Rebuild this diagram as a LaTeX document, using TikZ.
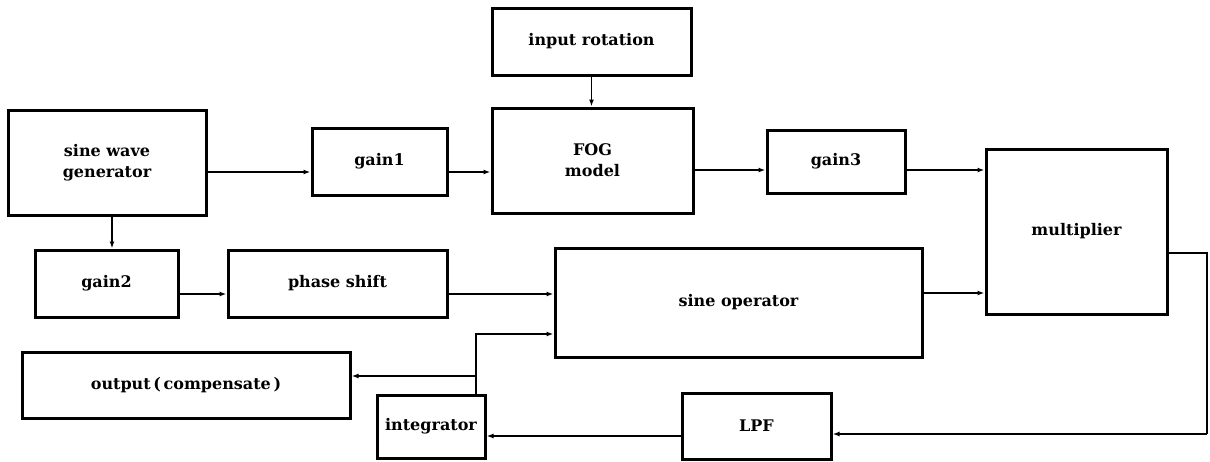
\documentclass[tikz,border=0pt]{standalone}
\usepackage{fontspec}
\setmainfont{DejaVu Serif}
\usetikzlibrary{arrows.meta}
\tikzset{
  blk/.style={draw, line width=3pt, inner sep=0pt, align=center, font=\fontsize{16}{21}\selectfont\bfseries},
  conn/.style={line width=1.5pt, -{Latex[length=7pt,width=5pt]}},
  wire/.style={line width=1.5pt}
}
\begin{document}
\begin{tikzpicture}[x=1pt,y=-1pt]
\useasboundingbox (0,0) rectangle (1210,461);
\node[blk, minimum width=199pt, minimum height=67pt] (inrot) at (591.5,41.5) {input rotation};
\node[blk, minimum width=198pt, minimum height=105pt] (swg) at (107,162.5) {sine wave\\generator};
\node[blk, minimum width=135pt, minimum height=67pt] (gain1) at (379.5,161.5) {gain1};
\node[blk, minimum width=201pt, minimum height=105pt] (fog) at (592.5,160.5) {FOG\\model};
\node[blk, minimum width=138pt, minimum height=63pt] (gain3) at (836,161.5) {gain3};
\node[blk, minimum width=181pt, minimum height=165pt] (mult) at (1076.5,231.5) {multiplier};
\node[blk, minimum width=143pt, minimum height=67pt] (gain2) at (106.5,283.5) {gain2};
\node[blk, minimum width=219pt, minimum height=67pt] (phase) at (337.5,283.5) {phase shift};
\node[blk, minimum width=367pt, minimum height=109pt] (sineop) at (738.5,302.5) {sine operator};
\node[blk, minimum width=328pt, minimum height=66pt] (output) at (186,385) {output\,(\,compensate\,)};
\node[blk, minimum width=108pt, minimum height=63pt] (integ) at (431,426.5) {integrator};
\node[blk, minimum width=149pt, minimum height=66pt] (lpf) at (756.5,426) {LPF};
\coordinate (fb) at (1207,434);
\coordinate (tap) at (476,334);
\coordinate (jn) at (476,376);
\draw[conn] ([yshift=-9.5pt]swg.east) -- ([yshift=-10.5pt]gain1.west);
\draw[conn] ([yshift=-10.5pt]gain1.east) -- ([yshift=-11.5pt]fog.west);
\draw[conn] (inrot.south) -- (inrot.south |- fog.north);
\draw[conn] ([yshift=-9.5pt]fog.east) -- ([yshift=-8.5pt]gain3.west);
\draw[conn] ([yshift=-8.5pt]gain3.east) -- ([yshift=61.5pt]mult.west);
\draw[conn] ([xshift=5pt]swg.south) -- ([xshift=5.5pt]gain2.north);
\draw[conn] ([yshift=-10.5pt]gain2.east) -- ([yshift=-10.5pt]phase.west);
\draw[conn] ([yshift=-10.5pt]phase.east) -- ([yshift=8.5pt]sineop.west);
\draw[conn] ([yshift=9.5pt]sineop.east) -- ([yshift=-61.5pt]mult.west);
\draw[wire] ([yshift=-21.5pt]mult.east) -| (fb);
\draw[conn] (fb) -- ([yshift=-8pt]lpf.east);
\draw[conn] ([yshift=-10pt]lpf.west) -- ([yshift=-9.5pt]integ.east);
\draw[conn] ([xshift=45pt]integ.north) -- (tap) -- ([yshift=-31.5pt]sineop.west);
\draw[conn] (jn) -- ([yshift=9pt]output.east);
\end{tikzpicture}
\end{document}
